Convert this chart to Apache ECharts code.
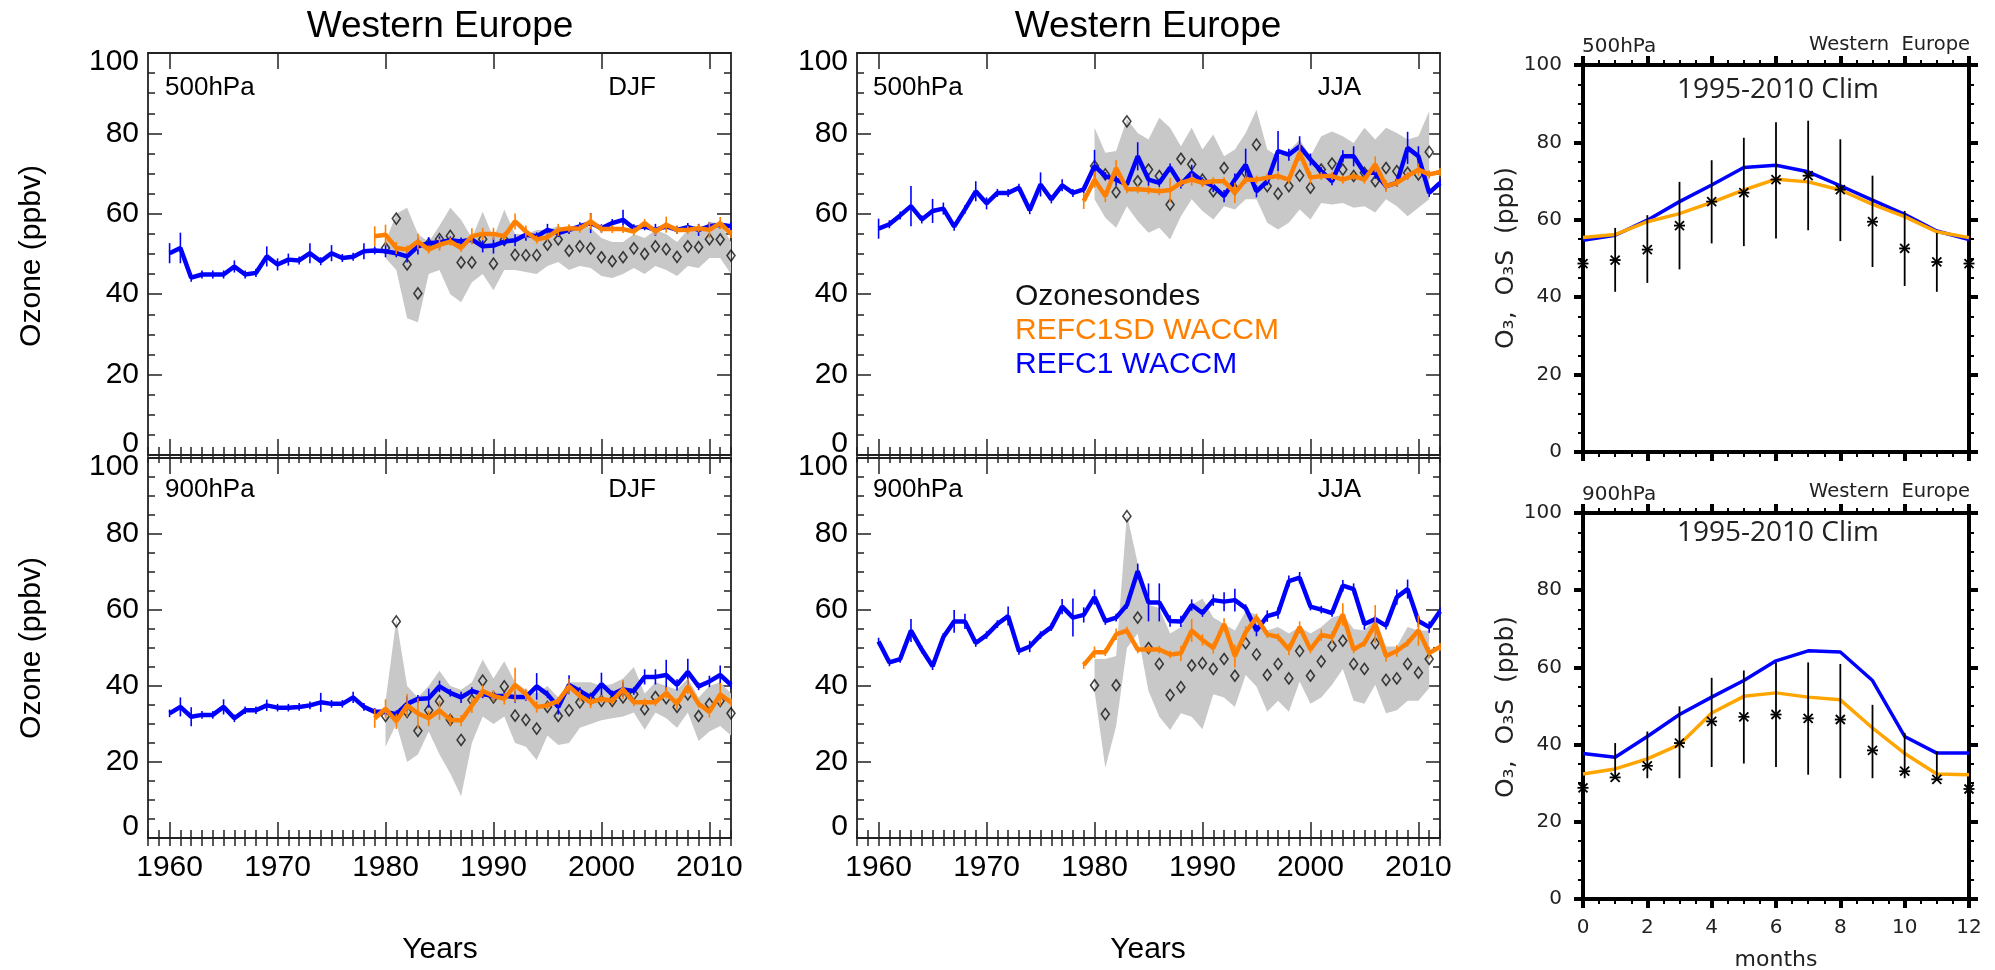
<!DOCTYPE html>
<html><head><meta charset="utf-8">
<script src="https://cdn.jsdelivr.net/npm/echarts@6.0.0/dist/echarts.min.js"></script>
<style>html,body{margin:0;padding:0;background:#fff;}#c{width:1995px;height:970px;}</style>
</head><body><div id="c"></div>
<script>
// ---------------- DATA ----------------
const yearsModel = [1960,1961,1962,1963,1964,1965,1966,1967,1968,1969,1970,1971,1972,1973,1974,1975,1976,1977,1978,1979,1980,1981,1982,1983,1984,1985,1986,1987,1988,1989,1990,1991,1992,1993,1994,1995,1996,1997,1998,1999,2000,2001,2002,2003,2004,2005,2006,2007,2008,2009,2010,2011,2012];
const yearsSD = [1979,1980,1981,1982,1983,1984,1985,1986,1987,1988,1989,1990,1991,1992,1993,1994,1995,1996,1997,1998,1999,2000,2001,2002,2003,2004,2005,2006,2007,2008,2009,2010,2011,2012];
const yearsObsDJF = [1980,1981,1982,1983,1984,1985,1986,1987,1988,1989,1990,1991,1992,1993,1994,1995,1996,1997,1998,1999,2000,2001,2002,2003,2004,2005,2006,2007,2008,2009,2010,2011,2012];
const yearsObsJJA = [1980,1981,1982,1983,1984,1985,1986,1987,1988,1989,1990,1991,1992,1993,1994,1995,1996,1997,1998,1999,2000,2001,2002,2003,2004,2005,2006,2007,2008,2009,2010,2011];
const yearTickLabels = [1960,1970,1980,1990,2000,2010];
const months = [0,1,2,3,4,5,6,7,8,9,10,11,12];

// DJF 500 hPa
const djf500Refc1 = [50.2,51.5,44.1,44.9,44.9,44.9,46.9,44.9,45.3,49.4,47.4,48.6,48.4,50.2,48.2,50.2,49.0,49.3,50.7,50.9,50.7,50.2,49.4,51.9,52.7,52.9,53.4,53.1,53.6,51.9,52.1,53.1,53.4,54.8,54.4,56.0,55.2,56.0,56.9,57.7,56.4,57.7,58.5,56.4,56.9,56.0,56.9,56.0,56.7,56.0,56.9,57.3,56.9];
const djf500Refc1Err = [2.5,3.8,1,1,1,1,1.5,1,1,2.5,1.5,1.5,1,2.5,1,2,1,1,2,1,1.5,1,1.5,2,1.5,1.5,1,1,1,1.5,2,1,1.5,1.5,1,1.5,1,1,1,2.5,1,1,2.5,1,1,1.5,1,1,1,1.5,1,1,1];
const djf500Refc1sd = [54.4,54.8,51.5,51.1,53.1,51.1,52.3,53.1,51.5,54.4,55.0,55.0,54.4,58.1,55.6,53.6,54.2,56.0,56.4,56.3,58.1,56.2,56.2,56.2,55.6,57.7,55.6,57.3,56.0,56.0,56.4,56.0,57.7,55.0];
const djf500Refc1sdErr = [2.5,2.5,1.5,1,2,1,1.5,1,1,2,1.5,1.5,1,2,1.5,1,1,1.5,1,1,2,1,1,1,1,1,1,2,1,1,1,2,1.5,1];
const djf500Obs = [51.5,58.8,47.4,40.2,52.5,53.7,54.5,47.9,47.9,53.7,47.6,53.5,49.8,49.7,49.7,52.3,53.6,50.8,51.9,51.4,49.2,48.2,49.2,51.4,50.0,51.9,51.2,49.3,51.9,51.7,53.7,53.6,49.6];
const djf500ObsLo = [49,46,34,33,45,46,40,38,43,45,41,46,46,45.5,45,47,48,46,47,46.5,44.5,44,45,46.5,45,47,46,44.5,47,46.5,49,49,45];
const djf500ObsHi = [53,60,61.5,55,53,57,61.5,58.5,54,60.5,54,61,55,55,56,56,57,56,57,56.5,54,53,53,55,54,56,55,53,56,55.5,58,57.5,53];

// DJF 900 hPa
const djf900Refc1 = [32.8,34.5,31.9,32.4,32.4,34.5,31.5,33.6,33.6,34.9,34.3,34.3,34.5,34.9,35.7,35.3,35.3,37.0,34.5,33.2,33.2,32.6,35.3,36.6,36.8,39.9,38.2,37.0,38.7,37.8,37.4,37.4,37.1,37.1,39.9,37.8,34.5,40.3,38.7,37.0,40.5,37.8,39.1,38.7,42.4,42.4,42.9,40.3,43.7,39.9,41.2,42.9,40.3];
const djf900Refc1Err = [1,2.5,2.5,1,1,2,1,1,1,1.5,1,1,1,1,2.5,1,1,1.5,1,1,1,1,2,1,2.5,1.5,1,1.5,1,1,1,1,1.5,1,3.5,1,2,2.5,1,1,3,1,2,1,2,2,4,1.5,3.5,1,1.5,2.5,1];
const djf900Refc1sd = [31.5,34.0,30.7,34.9,32.8,31.5,33.6,31.1,30.9,34.9,38.7,37.4,36.6,40.3,37.8,34.5,34.9,36.1,39.9,37.4,35.7,36.6,36.1,39.1,35.7,35.7,35.7,38.2,35.3,39.9,35.3,33.2,37.8,35.7];
const djf900Refc1sdErr = [2.5,2.5,2,3,4,2,2.5,1.5,1.5,2,1.5,1.5,1.5,4.5,1.5,1.5,1,1,2,1.5,1.5,1,1,2.5,1,1,1,1.5,1.5,2,1,1.5,3,1];
const djf900Obs = [32.1,57.0,33.2,28.2,33.6,36.0,31.1,25.8,36.3,41.4,37.0,39.9,32.2,31.1,28.8,34.5,32.1,33.6,35.7,36.6,36.1,36.1,37.0,37.8,33.9,37.1,36.8,34.5,37.8,32.1,35.3,36.1,32.8];
const djf900ObsLo = [24,30,20,22,28,22,17,11,25,32,30,32,25,24,20.5,27,24.5,25,29,30,31,31.5,32,33,28.5,33,31.5,29,33,25.5,28,29.5,27];
const djf900ObsHi = [36,57.5,40,37,40,44,40,39,41,47,42,46.5,41,39,38,40,37,41,41,41,40,40.5,42,45,38,41,40,39,42,37,40,41,38];

// JJA 500 hPa
const jja500Refc1 = [56.3,57.4,59.6,61.9,58.6,60.7,61.3,56.8,61.1,65.6,62.6,65.2,65.2,66.5,60.9,67.3,63.6,67.1,65.2,66.1,71.9,69.4,68.5,67.3,74.3,68.5,67.7,71.5,67.3,70.2,68.1,66.9,64.4,68.5,72.2,65.6,68.1,75.6,74.7,76.8,73.5,70.6,68.1,74.3,74.3,70.2,70.2,66.9,67.7,76.4,74.3,65.2,67.7];
const jja500Refc1Err = [2.5,1,1,5,1,3,1.5,1,1,2.5,1.5,1,1,1,1,3,1,1.5,1,1,4,1,1.5,1,3.5,1.5,1,1,1,2,1,1.5,1.5,1.5,4,1.5,1,5,1.5,2.5,1.5,1,1,1.5,2.5,1,1.5,1,1,4,2.5,1,1];
const jja500Refc1sd = [63.2,68.5,64.4,71.4,66.1,66.1,65.9,65.6,65.9,67.7,68.5,67.7,68.1,68.1,65.2,68.5,68.5,69.0,69.4,68.5,75.2,69.0,69.4,69.4,68.5,69.4,68.5,72.3,66.9,67.7,69.4,71.0,69.8,70.4];
const jja500Refc1sdErr = [2,2,1.5,2,1,1,1,1,3,1,1.5,1,1,1,2.5,1,1,1,1,1,2,1.5,1,1,1,1,1,2,1.5,1,1,1.5,1,1];
const jja500Obs = [71.9,69.8,65.4,83.0,68.1,71.0,69.4,62.3,73.7,72.3,68.5,65.6,71.4,66.1,70.2,77.2,66.9,65.0,66.9,69.5,66.5,71.0,72.5,71.0,69.4,70.2,68.1,71.4,70.6,70.2,69.8,75.4];
const jja500ObsLo = [63.6,59,56.5,61.9,58.2,55.3,56.5,53.6,59.4,63.6,60.7,58.6,61.9,61.1,63.6,63.6,57.8,56.1,57.8,61.1,58.6,62.7,62.3,62.7,61.5,61.9,60.3,63.6,61.9,59.4,61.5,63.6];
const jja500ObsHi = [81.4,75.2,75.6,83.6,80.1,78.5,83.9,81.4,76.8,81.4,76,79.7,74.3,76,80.1,85.9,76,74.3,75.6,78.5,74.3,79.3,80.5,79.3,77.6,81.4,78.5,81.4,80.1,78.5,79.3,85.5];

// JJA 900 hPa
const jja900Refc1 = [51.7,46.2,47.1,54.6,49.6,45.2,52.9,57.0,57.0,51.3,53.4,56.3,58.4,49.2,50.4,53.4,55.5,60.9,58.0,58.7,63.4,57.1,58.0,61.3,70.2,62.0,62.0,57.1,57.0,61.3,59.2,62.6,62.2,62.6,60.5,54.6,58.4,59.2,67.6,68.5,60.9,60.1,59.2,66.4,65.5,56.3,57.6,55.9,63.4,65.5,57.1,55.5,59.7];
const jja900Refc1Err = [1,1,1,3,1,1,1,3,2,1,1,1,2.5,1,1.5,1,1,2,5,2,2,1,1,1,2,5,5,1.5,1.5,1.5,1,1.5,2.5,3,1,1.5,1.5,1.5,1.5,1.5,1,1,1,1.5,1.5,1.5,1,1,2,2.5,1.5,1.5,1];
const jja900Refc1sd = [45.5,48.9,48.9,53.6,54.6,49.6,49.6,49.6,48.3,48.6,54.6,52.1,50.0,56.3,47.9,54.2,58.0,53.6,52.9,49.6,55.5,49.6,53.4,52.9,58.8,49.6,51.3,56.3,47.9,49.2,51.3,54.6,48.7,50.3];
const jja900Refc1sdErr = [1,1.5,1,1.5,1,1,1,1,1,2,3,1.5,1.5,1.5,3,1.5,1,1,1,1.5,1.5,1,1.5,1.5,3,1,1,5,1.5,1.5,1,4,1.5,1];
const jja900Obs = [40.2,32.6,40.2,84.7,58.0,50.0,45.8,37.6,39.7,45.4,46.0,44.5,47.1,42.7,51.3,48.3,42.9,45.8,42.0,49.2,42.7,46.5,50.6,51.9,45.8,44.5,51.3,41.6,42.0,45.8,43.5,47.1];
const jja900ObsLo = [38.7,18.5,29.4,50,53.8,38.7,31.9,28.4,32.8,31.9,28.6,37.8,37,34.5,42.9,39.9,33.2,36.1,33.2,41.2,35.3,37,40.3,44.5,36.1,35.3,40.3,32.8,33.6,36.1,36.1,39.5];
const jja900ObsHi = [47.1,47.1,47.9,85.2,72.3,61.3,60.5,53.8,55.5,61.3,63,58,56.3,54.6,59.7,58.8,54.6,55.5,53.8,55.5,53.8,55.5,58,58.8,55,54.6,58,50.4,50.4,55.5,54.6,54.6];

// 1995-2010 climatology (months)
const clim500Refc1 = [54.7,56.0,59.9,64.7,69.0,73.5,74.1,72.4,68.8,65.1,61.4,57.1,54.9];
const clim500Refc1sd = [55.4,56.2,59.5,61.6,64.5,67.7,70.5,69.8,67.7,64.0,60.8,56.9,55.4];
const clim500Obs = [48.7,49.6,52.3,58.5,64.7,67.0,70.4,71.4,67.8,59.5,52.6,49.1,48.7];
const clim500ObsLo = [48.7,41.4,43.7,47.2,53.9,53.2,55.2,57.3,54.5,47.8,42.9,41.4,48.7];
const clim500ObsHi = [48.7,57.9,61.2,69.8,75.4,81.2,85.2,85.6,80.8,71.4,62.3,56.6,48.7];
const clim900Refc1 = [37.7,36.7,42.1,47.8,52.3,56.6,61.7,64.3,64.0,56.6,42.1,37.8,37.8];
const clim900Refc1sd = [32.4,33.7,36.3,40.0,48.2,52.5,53.4,52.3,51.6,44.3,37.7,32.4,32.2];
const clim900Obs = [28.8,31.5,34.5,40.4,46.0,47.2,47.8,46.8,46.5,38.5,33.1,31.0,28.5];
const clim900ObsLo = [28.8,31.3,31.3,31.3,34.2,35.1,34.2,32.2,31.3,31.3,31.3,31.3,28.5];
const clim900ObsHi = [28.8,40.4,43.4,49.9,57.3,59.2,61.3,61.3,60.9,50.3,43.0,38.3,28.5];

// ---------------- STYLE / BUILD ----------------
const FONT = "'Liberation Sans', Arial, Helvetica, sans-serif";
const NFONT = "'DejaVu Sans', 'Liberation Sans', sans-serif";
const BLUE = '#0000ff', ORANGE = '#ff8000', ORANGE2 = '#ffa500', GRAY = '#c8c8c8';

const panels = [
  {grid:{left:148, top:53, width:583, height:402}, xl:false, m:djf500Refc1, me:djf500Refc1Err, s:djf500Refc1sd, se:djf500Refc1sdErr, oy:yearsObsDJF, o:djf500Obs, lo:djf500ObsLo, hi:djf500ObsHi},
  {grid:{left:148, top:458, width:583, height:380}, xl:true, m:djf900Refc1, me:djf900Refc1Err, s:djf900Refc1sd, se:djf900Refc1sdErr, oy:yearsObsDJF, o:djf900Obs, lo:djf900ObsLo, hi:djf900ObsHi},
  {grid:{left:857, top:53, width:583, height:402}, xl:false, m:jja500Refc1, me:jja500Refc1Err, s:jja500Refc1sd, se:jja500Refc1sdErr, oy:yearsObsJJA, o:jja500Obs, lo:jja500ObsLo, hi:jja500ObsHi},
  {grid:{left:857, top:458, width:583, height:380}, xl:true, m:jja900Refc1, me:jja900Refc1Err, s:jja900Refc1sd, se:jja900Refc1sdErr, oy:yearsObsJJA, o:jja900Obs, lo:jja900ObsLo, hi:jja900ObsHi}
];
const climPanels = [
  {grid:{left:1583, top:65, width:386, height:387}, xl:false, b:clim500Refc1, o:clim500Refc1sd, obs:clim500Obs, lo:clim500ObsLo, hi:clim500ObsHi},
  {grid:{left:1583, top:513, width:386, height:386}, xl:true, b:clim900Refc1, o:clim900Refc1sd, obs:clim900Obs, lo:clim900ObsLo, hi:clim900ObsHi}
];

const allYearTicks = [];
for (let y = 1958; y <= 2012; y++) allYearTicks.push(y);

const grids = [], xAxes = [], yAxes = [], series = [];

function yearAxis(g, pos, ticks, len, labels) {
  return {type:'value', gridIndex:g, position:pos, min:1958, max:2012,
    axisLine:{show:true, onZero:false, lineStyle:{color:'#222', width:1.8}},
    axisTick:{show:true, inside:true, length:len, customValues:ticks, lineStyle:{color:'#222', width:1.5}},
    axisLabel:{show:labels, customValues:yearTickLabels, margin:15, fontSize:30, fontFamily:FONT, color:'#000',
      formatter: v => String(v)},
    splitLine:{show:false}, minorTick:{show:false}};
}
function ozAxis(g, pos, labels) {
  return {type:'value', gridIndex:g, position:pos, min:0, max:100, interval:20,
    axisLine:{show:true, onZero:false, lineStyle:{color:'#222', width:1.8}},
    axisTick:{show:true, inside:true, length:14, lineStyle:{color:'#222', width:1.5}},
    minorTick:{show:true, splitNumber:4, length:7, lineStyle:{color:'#222', width:1.5}},
    axisLabel:{show:labels, margin:9, fontSize:30, fontFamily:FONT, color:'#000',
      formatter: v => v === 100 ? '{t|100}' : (v === 0 ? '{b|0}' : String(v)),
      rich:{t:{fontSize:30, fontFamily:FONT, color:'#000', padding:[18,0,0,0]},
            b:{fontSize:30, fontFamily:FONT, color:'#000', padding:[0,0,22,0]}}},
    splitLine:{show:false}};
}
function errSeries(xi, yi, xs, v, e, color, z) {
  return {type:'custom', xAxisIndex:xi, yAxisIndex:yi, z:z, silent:true,
    data: xs.map((x, i) => [x, v[i] - e[i], v[i] + e[i]]),
    encode:{x:0, y:[1,2]},
    renderItem:(p, api) => {
      const a = api.coord([api.value(0), api.value(1)]);
      const b = api.coord([api.value(0), api.value(2)]);
      return {type:'line', shape:{x1:a[0], y1:a[1], x2:b[0], y2:b[1]}, style:{stroke:color, lineWidth:1.6}};
    }};
}
function bandSeries(xi, yi, xs, lo, hi) {
  const rows = xs.map((x, i) => [x, lo[i], hi[i]]);
  return {type:'custom', xAxisIndex:xi, yAxisIndex:yi, z:1, silent:true, data:rows, encode:{x:0, y:[1,2]},
    renderItem:(p, api) => {
      if (p.dataIndex !== 0) return null;
      const pts = [];
      for (let i = 0; i < rows.length; i++) pts.push(api.coord([rows[i][0], rows[i][2]]));
      for (let i = rows.length - 1; i >= 0; i--) pts.push(api.coord([rows[i][0], rows[i][1]]));
      return {type:'polygon', shape:{points:pts}, style:{fill:GRAY}};
    }};
}

panels.forEach((p, g) => {
  grids.push(Object.assign({containLabel:false}, p.grid));
  const xi = xAxes.length;
  xAxes.push(yearAxis(g, 'bottom', yearTickLabels, 16, p.xl));
  xAxes.push(Object.assign(yearAxis(g, 'bottom', allYearTicks, 8, false), {axisLine:{show:false}}));
  xAxes.push(yearAxis(g, 'top', yearTickLabels, 16, false));
  xAxes.push(Object.assign(yearAxis(g, 'top', allYearTicks, 8, false), {axisLine:{show:false}}));
  const yi = yAxes.length;
  yAxes.push(ozAxis(g, 'left', true));
  yAxes.push(ozAxis(g, 'right', false));
  series.push(bandSeries(xi, yi, p.oy, p.lo, p.hi));
  series.push({type:'scatter', xAxisIndex:xi, yAxisIndex:yi, z:2, silent:true,
    data:p.oy.map((x, i) => [x, p.o[i]]), symbol:'diamond', symbolSize:[8,11],
    itemStyle:{color:'rgba(0,0,0,0)', borderColor:'#111', borderWidth:1.6}});
  series.push(errSeries(xi, yi, yearsModel, p.m, p.me, BLUE, 3));
  series.push({type:'line', xAxisIndex:xi, yAxisIndex:yi, z:4, silent:true, showSymbol:false, symbol:'none',
    data:yearsModel.map((x, i) => [x, p.m[i]]), lineStyle:{color:BLUE, width:4.5}});
  series.push(errSeries(xi, yi, yearsSD, p.s, p.se, ORANGE, 5));
  series.push({type:'line', xAxisIndex:xi, yAxisIndex:yi, z:6, silent:true, showSymbol:false, symbol:'none',
    data:yearsSD.map((x, i) => [x, p.s[i]]), lineStyle:{color:ORANGE, width:4.5}});
});

function monthAxis(g, pos, labels) {
  return {type:'value', gridIndex:g, position:pos, min:0, max:12, interval:2,
    axisLine:{show:true, onZero:false, lineStyle:{color:'#000', width:4}},
    axisTick:{show:true, inside:false, length:9, lineStyle:{color:'#000', width:4}},
    minorTick:{show:true, splitNumber:4, length:5, lineStyle:{color:'#000', width:2}},
    axisLabel:{show:labels, margin:19, fontSize:20, fontFamily:NFONT, color:'#222'},
    splitLine:{show:false}};
}
function climY(g, pos, labels) {
  return {type:'value', gridIndex:g, position:pos, min:0, max:100, interval:20,
    axisLine:{show:true, onZero:false, lineStyle:{color:'#000', width:4}},
    axisTick:{show:true, inside:false, length:9, lineStyle:{color:'#000', width:4}},
    minorTick:{show:true, splitNumber:4, length:5, lineStyle:{color:'#000', width:2}},
    axisLabel:{show:labels, margin:21, fontSize:20, fontFamily:NFONT, color:'#222'},
    splitLine:{show:false}};
}

climPanels.forEach((p, k) => {
  const g = grids.length;
  grids.push(Object.assign({containLabel:false}, p.grid));
  const xi = xAxes.length;
  xAxes.push(monthAxis(g, 'bottom', p.xl));
  xAxes.push(monthAxis(g, 'top', false));
  const yi = yAxes.length;
  yAxes.push(climY(g, 'left', true));
  yAxes.push(climY(g, 'right', false));
  series.push({type:'line', xAxisIndex:xi, yAxisIndex:yi, z:3, silent:true, showSymbol:false, symbol:'none',
    data:months.map((m, i) => [m, p.b[i]]), lineStyle:{color:BLUE, width:3.5}});
  series.push({type:'line', xAxisIndex:xi, yAxisIndex:yi, z:4, silent:true, showSymbol:false, symbol:'none',
    data:months.map((m, i) => [m, p.o[i]]), lineStyle:{color:ORANGE2, width:3.5}});
  series.push({type:'custom', xAxisIndex:xi, yAxisIndex:yi, z:5, silent:true,
    data:months.map((m, i) => [m, p.obs[i], p.lo[i], p.hi[i]]), encode:{x:0, y:[1,2,3]},
    renderItem:(prm, api) => {
      const c = api.coord([api.value(0), api.value(1)]);
      const a = api.coord([api.value(0), api.value(2)]);
      const b = api.coord([api.value(0), api.value(3)]);
      const r = 4.5, st = {stroke:'#000', lineWidth:1.8};
      return {type:'group', children:[
        {type:'line', shape:{x1:a[0], y1:a[1], x2:b[0], y2:b[1]}, style:st},
        {type:'line', shape:{x1:c[0]-r, y1:c[1]-r, x2:c[0]+r, y2:c[1]+r}, style:st},
        {type:'line', shape:{x1:c[0]-r, y1:c[1]+r, x2:c[0]+r, y2:c[1]-r}, style:st},
        {type:'line', shape:{x1:c[0]-r-1, y1:c[1], x2:c[0]+r+1, y2:c[1]}, style:st}
      ]};
    }});
});

function txt(text, x, y, size, opts) {
  opts = opts || {};
  return {type:'text', x:x, y:y, rotation:opts.rot || 0, z:100, silent:true,
    style:{text:text, fontSize:size, fontFamily:opts.font || FONT, fill:opts.color || '#000',
      align:opts.align || 'left', verticalAlign:'middle'}};
}
const SUBLBL = 'O\u2083,  O\u2083S  (ppb)';
const graphics = [
  txt('Western Europe', 440, 27, 37, {align:'center'}),
  txt('Western Europe', 1148, 27, 37, {align:'center'}),
  txt('Ozone (ppbv)', 32, 256, 30, {align:'center', rot:Math.PI/2}),
  txt('Ozone (ppbv)', 32, 648, 30, {align:'center', rot:Math.PI/2}),
  txt('500hPa', 165, 88, 26), txt('DJF', 656, 88, 26, {align:'right'}),
  txt('900hPa', 165, 490, 26), txt('DJF', 656, 490, 26, {align:'right'}),
  txt('500hPa', 873, 88, 26), txt('JJA', 1361, 88, 26, {align:'right'}),
  txt('900hPa', 873, 490, 26), txt('JJA', 1361, 490, 26, {align:'right'}),
  txt('Ozonesondes', 1015, 297, 30, {color:'#111'}),
  txt('REFC1SD WACCM', 1015, 331, 30, {color:ORANGE}),
  txt('REFC1 WACCM', 1015, 365, 30, {color:BLUE}),
  txt('Years', 440, 950, 30, {align:'center'}),
  txt('Years', 1148, 950, 30, {align:'center'}),
  txt('500hPa', 1582, 47, 20, {font:NFONT, color:'#222'}),
  txt('Western  Europe', 1970, 45, 19.5, {font:NFONT, color:'#222', align:'right'}),
  txt('1995-2010 Clim', 1778, 90, 28, {font:"'Open Sans', sans-serif", color:'#222', align:'center'}),
  txt('900hPa', 1582, 495, 20, {font:NFONT, color:'#222'}),
  txt('Western  Europe', 1970, 492, 19.5, {font:NFONT, color:'#222', align:'right'}),
  txt('1995-2010 Clim', 1778, 533, 28, {font:"'Open Sans', sans-serif", color:'#222', align:'center'}),
  txt(SUBLBL, 1506, 258, 25, {font:NFONT, color:'#222', align:'center', rot:Math.PI/2}),
  txt(SUBLBL, 1506, 707, 25, {font:NFONT, color:'#222', align:'center', rot:Math.PI/2}),
  txt('months', 1776, 960, 22, {font:NFONT, color:'#222', align:'center'})
];

const chart = echarts.init(document.getElementById('c'), null, {renderer:'canvas'});
chart.setOption({
  backgroundColor:'#fff', animation:false,
  grid:grids, xAxis:xAxes, yAxis:yAxes, series:series, graphic:graphics
});
</script></body></html>
